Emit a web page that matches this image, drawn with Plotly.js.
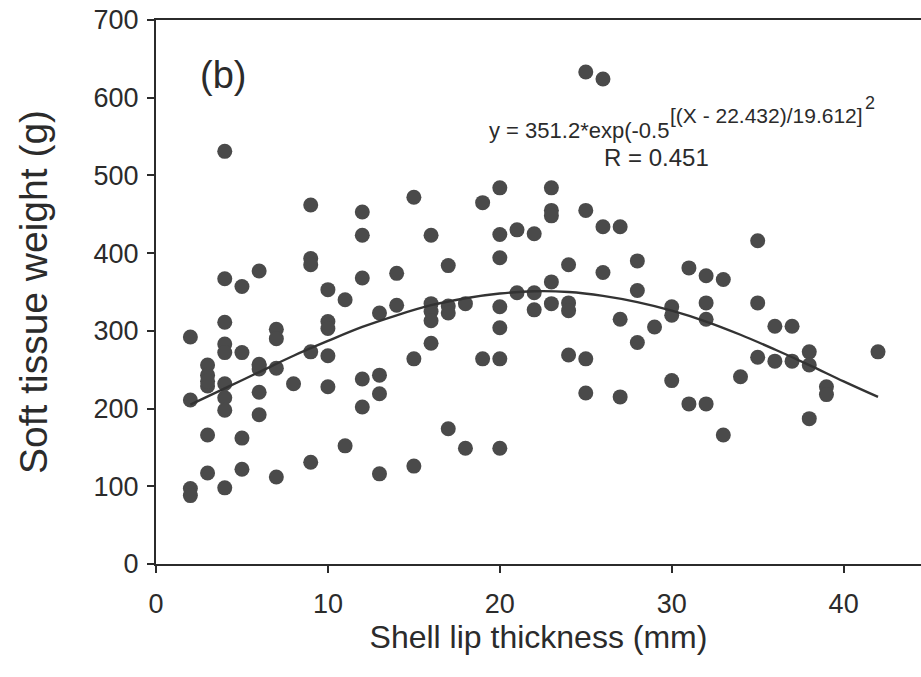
<!DOCTYPE html>
<html>
<head>
<meta charset="utf-8">
<script src="https://cdn.plot.ly/plotly-3.0.1.min.js"></script>
<style>html,body{margin:0;padding:0;background:#fff;}#chart{width:921px;height:677px;}</style>
</head>
<body>
<div id="chart"></div>
<script>
// Observed data: shell lip thickness (mm) vs soft tissue weight (g)
var lipThickness = [
  2,2,2,2,
  3,3,3,3,3,3,
  4,4,4,4,4,4,4,4,4,
  5,5,5,5,
  6,6,6,6,6,6,
  7,7,7,7,
  8,
  9,9,9,9,9,
  10,10,10,10,10,
  11,11,
  12,12,12,12,12,
  13,13,13,13,
  14,14,
  15,15,15,
  16,16,16,16,16,
  17,17,17,17,
  18,18,
  19,19,
  20,20,20,20,20,20,20,
  21,21,
  22,22,22,
  23,23,23,23,23,
  24,24,24,24,
  25,25,25,25,
  26,26,26,
  27,27,27,
  28,28,28,
  29,
  30,30,30,
  31,31,
  32,32,32,32,
  33,33,
  34,
  35,35,35,
  36,36,
  37,37,
  38,38,38,
  39,39,
  42
];
var tissueWeight = [
  292,211,97,88,
  256,243,229,166,117,235,
  531,367,311,283,272,232,214,198,98,
  357,272,162,122,
  377,257,251,221,192,255,
  302,290,252,112,
  232,
  462,393,385,273,131,
  353,312,303,268,228,
  340,152,
  453,423,368,238,202,
  323,243,219,116,
  374,333,
  472,264,126,
  423,335,325,313,284,
  384,332,323,174,
  335,149,
  465,264,
  484,424,394,331,304,264,149,
  430,349,
  425,349,327,
  484,455,448,363,335,
  385,336,326,269,
  633,455,264,220,
  624,434,375,
  434,315,215,
  390,352,285,
  305,
  331,320,236,
  381,206,
  371,336,315,206,
  366,166,
  241,
  416,336,266,
  306,261,
  306,261,
  273,256,187,
  228,218,
  273
];
// Fitted Gaussian curve
var fitX = [2,4,6,8,10,12,14,16,18,20,22,24,26,28,30,32,34,36,38,40,42];
var fitY = [205,226,247,268,287,305,320,333,342,348,351,350,345,337,326,312,295,276,256,235,215];
var xTicks = [0,10,20,30,40];
var yTicks = [0,100,200,300,400,500,600,700];

var fontFam = 'Liberation Sans, Arial, sans-serif';
var ink = '#2b2b2b';

var traces = [
  {
    x: lipThickness, y: tissueWeight, type: 'scatter', mode: 'markers',
    marker: {size: 15, color: '#4a4a4a', line: {width: 0}},
    hoverinfo: 'x+y', showlegend: false
  },
  {
    x: fitX, y: fitY, type: 'scatter', mode: 'lines',
    line: {color: '#333333', width: 2.4, shape: 'spline'},
    hoverinfo: 'skip', showlegend: false
  }
];

var layout = {
  width: 921, height: 677,
  margin: {l: 156, r: 0, t: 20, b: 113},
  paper_bgcolor: '#ffffff', plot_bgcolor: '#ffffff',
  font: {family: fontFam, color: ink},
  xaxis: {
    range: [0, 44.5], tickvals: xTicks, ticktext: xTicks.map(String),
    showgrid: false, zeroline: false, showline: true, linecolor: ink, linewidth: 2,
    mirror: true, ticks: 'outside', ticklen: 7, tickwidth: 2, tickcolor: ink,
    ticklabelstandoff: 8,
    tickfont: {size: 27, family: fontFam, color: ink},
    title: {text: 'Shell lip thickness (mm)', font: {size: 32, family: fontFam, color: ink}, standoff: 4}
  },
  yaxis: {
    range: [0, 700], tickvals: yTicks, ticktext: yTicks.map(String),
    showgrid: false, zeroline: false, showline: true, linecolor: ink, linewidth: 2,
    mirror: false, ticks: 'outside', ticklen: 7, tickwidth: 2, tickcolor: ink,
    ticklabelstandoff: 3,
    tickfont: {size: 27, family: fontFam, color: ink},
    title: {text: 'Soft tissue weight (g)', font: {size: 39, family: fontFam, color: ink}, standoff: 34}
  },
  annotations: [
    {xref: 'paper', yref: 'paper', x: 0.087, y: 0.899, text: '(b)', showarrow: false,
     font: {size: 38, family: fontFam, color: ink}, xanchor: 'center', yanchor: 'middle'},
    {xref: 'paper', yref: 'paper', x: 0.433, y: 0.797, text: 'y = 351.2*exp(-0.5',
     showarrow: false, font: {size: 22, family: fontFam, color: ink}, xanchor: 'left', yanchor: 'middle'},
    {xref: 'paper', yref: 'paper', x: 0.669, y: 0.824, text: '[(X - 22.432)/19.612]',
     showarrow: false, font: {size: 21, family: fontFam, color: ink}, xanchor: 'left', yanchor: 'middle'},
    {xref: 'paper', yref: 'paper', x: 0.924, y: 0.848, text: '2',
     showarrow: false, font: {size: 18, family: fontFam, color: ink}, xanchor: 'left', yanchor: 'middle'},
    {xref: 'paper', yref: 'paper', x: 0.654, y: 0.748, text: 'R = 0.451',
     showarrow: false, font: {size: 24, family: fontFam, color: ink}, xanchor: 'center', yanchor: 'middle'}
  ]
};

Plotly.newPlot('chart', traces, layout, {displayModeBar: false, staticPlot: true});
</script>
</body>
</html>
